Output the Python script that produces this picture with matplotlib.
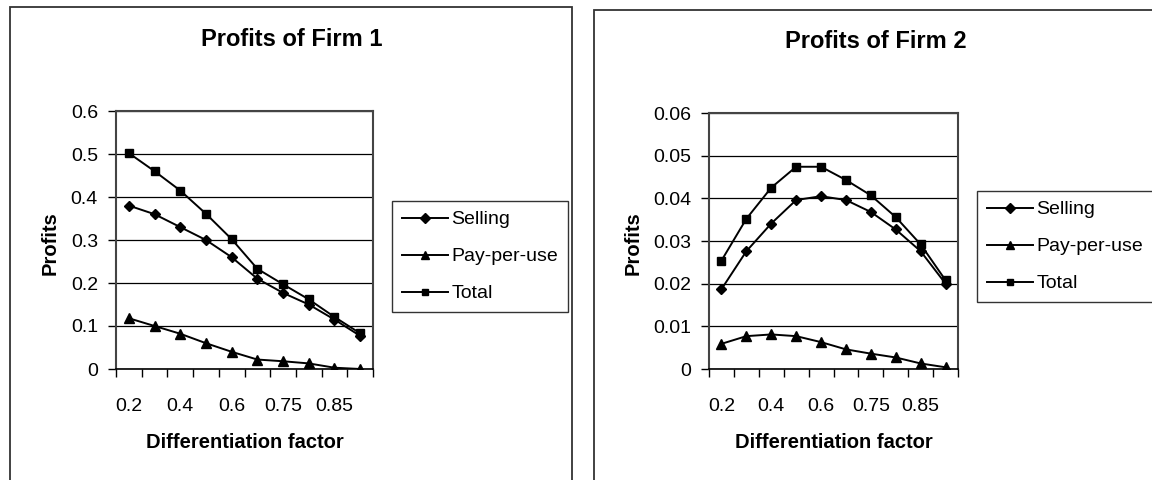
import matplotlib
matplotlib.use("Agg")
import matplotlib.pyplot as plt
from matplotlib.patches import Rectangle
from matplotlib.lines import Line2D

plt.rcParams['font.family'] = ['Liberation Sans', 'DejaVu Sans']

# differentiation factor categories (every other one is labelled)
factors = ['0.2', '0.3', '0.4', '0.5', '0.6', '0.7', '0.75', '0.8', '0.85', '0.9']

firm1_selling = [0.380, 0.360, 0.330, 0.300, 0.260, 0.210, 0.177, 0.150, 0.115, 0.077]
firm1_ppu = [0.118, 0.100, 0.082, 0.060, 0.040, 0.022, 0.018, 0.013, 0.003, 0.000]
firm1_total = [0.502, 0.460, 0.415, 0.361, 0.302, 0.233, 0.197, 0.162, 0.121, 0.083]

firm2_selling = [0.0187, 0.0276, 0.0341, 0.0396, 0.0405, 0.0396, 0.0368, 0.0327, 0.0276, 0.0200]
firm2_ppu = [0.0059, 0.0077, 0.0081, 0.0077, 0.0063, 0.0046, 0.0036, 0.0027, 0.0013, 0.0004]
firm2_total = [0.0254, 0.0352, 0.0425, 0.0474, 0.0474, 0.0443, 0.0407, 0.0356, 0.0292, 0.0208]

series_names = ['Selling', 'Pay-per-use', 'Total']
markers = ['D', '^', 's']
msizes = [5.5, 6.5, 5.5]

W, H = 1152, 480
fig = plt.figure(figsize=(W / 100, H / 100), dpi=100)


def fx(px):
    return px / W


def fy(py):
    return 1 - py / H


# outer frames of the two chart objects
for x0, y0, x1 in [(10, 7, 572), (594, 10, 1160)]:
    fig.patches.append(Rectangle((fx(x0), fy(490)), fx(x1 - x0), (490 - y0) / H,
                                 transform=fig.transFigure, fill=False,
                                 edgecolor='#333333', linewidth=1.3))


def draw_panel(rect, data, ymax, ystep, yfmt, title, title_xy, ylab_x, leg_xy):
    ax = fig.add_axes(rect)
    x = list(range(len(factors)))
    for vals, m, ms in zip(data, markers, msizes):
        ax.plot(x, vals, color='black', linewidth=1.4, marker=m, markersize=ms,
                markerfacecolor='black', markeredgecolor='black', zorder=3)
    ax.set_xlim(-0.5, len(factors) - 0.5)
    ax.set_ylim(0, ymax)
    yt = [i * ystep for i in range(int(round(ymax / ystep)) + 1)]
    ax.set_yticks(yt)
    ax.set_yticklabels([yfmt(v) for v in yt], fontsize=14)
    ax.yaxis.grid(True, color='black', linewidth=0.9)
    ax.set_axisbelow(True)
    ax.set_xticks(x[::2])
    ax.set_xticklabels(factors[::2], fontsize=14)
    ax.set_xticks([i - 0.5 for i in range(len(factors) + 1)], minor=True)
    ax.tick_params(axis='x', which='major', length=0, pad=21)
    ax.tick_params(axis='x', which='minor', length=6, width=1, direction='out')
    ax.tick_params(axis='y', length=6, width=1, direction='out', pad=7)
    for s in ['top', 'right', 'left']:
        ax.spines[s].set_color('#444444')
        ax.spines[s].set_linewidth(1.5)
    ax.spines['bottom'].set_color('black')
    ax.spines['bottom'].set_linewidth(1.2)

    cx = rect[0] + rect[2] / 2
    fig.text(cx, fy(442), 'Differentiation factor', ha='center', va='center',
             fontsize=14.5, fontweight='bold')
    fig.text(fx(ylab_x), fy(243), 'Profits', ha='center', va='center',
             rotation=90, fontsize=14.5, fontweight='bold')
    fig.text(fx(title_xy[0]), fy(title_xy[1]), title, ha='center', va='center',
             fontsize=17, fontweight='bold')

    handles = [Line2D([], [], color='black', linewidth=1.4, marker=m, markersize=ms - 0.5)
               for m, ms in zip(markers, msizes)]
    leg = fig.legend(handles, series_names, loc='upper left',
                     bbox_to_anchor=(fx(leg_xy[0]), fy(leg_xy[1])),
                     fontsize=14, frameon=True, fancybox=False, shadow=False,
                     handlelength=2.4, handletextpad=0.15, labelspacing=1.0,
                     borderpad=0.5, borderaxespad=0)
    leg.get_frame().set_edgecolor('black')
    leg.get_frame().set_linewidth(1.0)
    return ax


draw_panel([fx(116), fy(369), fx(373 - 116), (369 - 111) / H],
           [firm1_selling, firm1_ppu, firm1_total], 0.6, 0.1,
           lambda v: '0' if v == 0 else f'{v:.1f}',
           'Profits of Firm 1', (292, 39), 50, (392, 201))

draw_panel([fx(709), fy(369), fx(958 - 709), (369 - 113) / H],
           [firm2_selling, firm2_ppu, firm2_total], 0.06, 0.01,
           lambda v: '0' if v == 0 else f'{v:.2f}',
           'Profits of Firm 2', (876, 41), 633, (977, 191))

fig.savefig('out.png', dpi=100, facecolor='white')
